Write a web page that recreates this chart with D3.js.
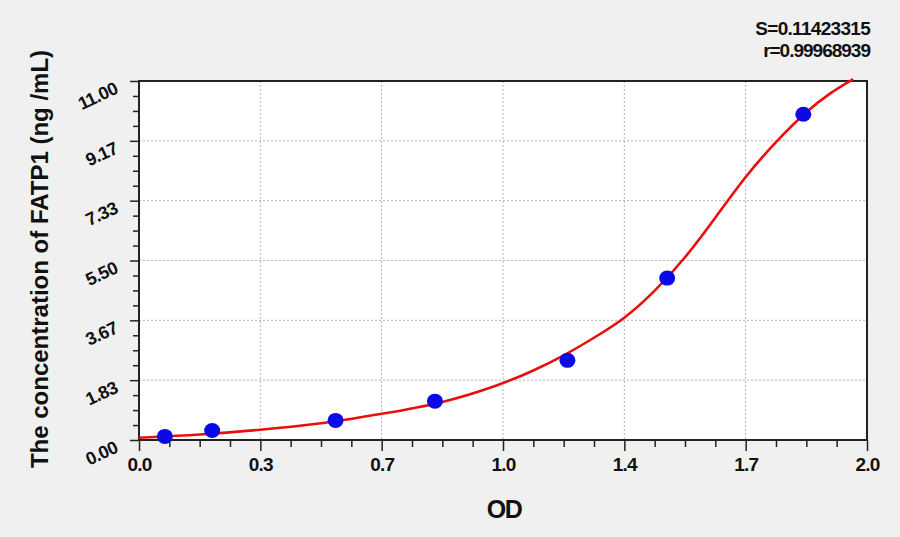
<!DOCTYPE html>
<html>
<head>
<meta charset="utf-8">
<script src="https://d3js.org/d3.v7.min.js"></script>
<style>
  body { margin: 0; background: #f0f0f0; }
  svg { display: block; background: #f0f0f0; }
  text { font-family: "Liberation Sans", Arial, sans-serif; font-weight: bold; fill: #111; }
  .domain { display: none; }
  .tick line { stroke: #222; stroke-width: 1.5; }
</style>
</head>
<body>
<div id="chart"></div>
<script>
// standards (OD, concentration)
var odValues   = [0.071, 0.201, 0.540, 0.813, 1.177, 1.451, 1.825];
var concValues = [0.11, 0.29, 0.60, 1.19, 2.44, 4.96, 9.98];

// fitted curve
var curveOD   = [0.0, 0.167, 0.333, 0.5, 0.667, 0.833, 1.0, 1.083, 1.167, 1.25, 1.333, 1.417, 1.5, 1.583, 1.667, 1.75, 1.833, 1.9, 1.962];
var curveConc = [0.07, 0.16, 0.31, 0.49, 0.80, 1.12, 1.72, 2.12, 2.58, 3.13, 3.70, 4.55, 5.56, 6.80, 8.10, 9.15, 10.07, 10.65, 11.06];

var xTickLabels = ["0.0", "0.3", "0.7", "1.0", "1.4", "1.7", "2.0"];
var yTickLabels = ["0.00", "1.83", "3.67", "5.50", "7.33", "9.17", "11.00"];

var statS = "S=0.11423315";
var statR = "r=0.99968939";

var W = 900, H = 537;
var margin = {top: 81, right: 33, bottom: 97, left: 139};
var w = W - margin.left - margin.right, h = H - margin.top - margin.bottom;

var svg = d3.select("#chart").append("svg")
    .attr("width", W).attr("height", H);

var x = d3.scaleLinear().domain([0, 2]).range([0, w]);
var y = d3.scaleLinear().domain([0, 11]).range([h, 0]);

var xMajor = d3.range(7).map(function (i) { return i * 2 / 6; });
var yMajor = d3.range(7).map(function (i) { return i * 11 / 6; });
var xMinor = d3.range(25).filter(function (k) { return k % 4; }).map(function (k) { return k * 2 / 24; });
var yMinor = d3.range(25).filter(function (k) { return k % 4; }).map(function (k) { return k * 11 / 24; });

var g = svg.append("g").attr("transform", "translate(" + margin.left + "," + margin.top + ")");

g.append("rect").attr("width", w).attr("height", h).attr("fill", "#fff");

// grid
g.selectAll("line.vgrid").data(xMajor.slice(1, 6)).enter().append("line")
    .attr("class", "vgrid")
    .attr("x1", function (d) { return x(d); }).attr("x2", function (d) { return x(d); })
    .attr("y1", 0).attr("y2", h)
    .attr("stroke", "#b4b4b4").attr("stroke-dasharray", "2,2");
g.selectAll("line.hgrid").data(yMajor.slice(1, 6)).enter().append("line")
    .attr("class", "hgrid")
    .attr("y1", function (d) { return y(d); }).attr("y2", function (d) { return y(d); })
    .attr("x1", 0).attr("x2", w)
    .attr("stroke", "#b4b4b4").attr("stroke-dasharray", "2,2");

// axes
g.append("g").attr("transform", "translate(0," + h + ")")
    .call(d3.axisBottom(x).tickValues(xMinor).tickSize(7).tickFormat(""));
var xa = g.append("g").attr("transform", "translate(0," + h + ")")
    .call(d3.axisBottom(x).tickValues(xMajor).tickSize(11).tickPadding(7)
        .tickFormat(function (d, i) { return xTickLabels[i]; }));
xa.selectAll("text").attr("font-size", 19).attr("font-family", null).style("letter-spacing", "-0.8px");

g.append("g").call(d3.axisLeft(y).tickValues(yMinor).tickSize(6).tickFormat(""));
var ya = g.append("g")
    .call(d3.axisLeft(y).tickValues(yMajor).tickSize(9).tickPadding(14)
        .tickFormat(function (d, i) { return yTickLabels[i]; }));
ya.selectAll("text").attr("font-size", 18).attr("font-family", null)
    .style("letter-spacing", "-0.6px")
    .attr("dy", "0.1em")
    .attr("transform", "rotate(-25)");

// frame
g.append("rect").attr("width", w).attr("height", h)
    .attr("fill", "none").attr("stroke", "#222").attr("stroke-width", 2);

// curve
var pts = curveOD.map(function (d, i) { return [d, curveConc[i]]; });
g.append("path").datum(pts)
    .attr("fill", "none").attr("stroke", "#e8100c").attr("stroke-width", 2.6)
    .attr("d", d3.line().x(function (d) { return x(d[0]); }).y(function (d) { return y(d[1]); })
        .curve(d3.curveBasis));

// points
g.selectAll("ellipse.pt").data(odValues).enter().append("ellipse")
    .attr("class", "pt")
    .attr("cx", function (d) { return x(d); })
    .attr("cy", function (d, i) { return y(concValues[i]); })
    .attr("rx", 8).attr("ry", 7.5)
    .attr("fill", "#0a0ae6");

// titles
svg.append("text").attr("x", 504).attr("y", 518).attr("text-anchor", "middle")
    .attr("font-size", 25).style("letter-spacing", "-1.5px").text("OD");
svg.append("text").attr("transform", "translate(48,259) rotate(-90)")
    .attr("text-anchor", "middle").attr("font-size", 24)
    .text("The concentration of FATP1 (ng /mL)");

svg.append("text").attr("x", 870).attr("y", 35).attr("text-anchor", "end")
    .attr("font-size", 19).style("letter-spacing", "-0.7px").text(statS);
svg.append("text").attr("x", 870).attr("y", 57).attr("text-anchor", "end")
    .attr("font-size", 19).style("letter-spacing", "-1px").text(statR);
</script>
</body>
</html>
